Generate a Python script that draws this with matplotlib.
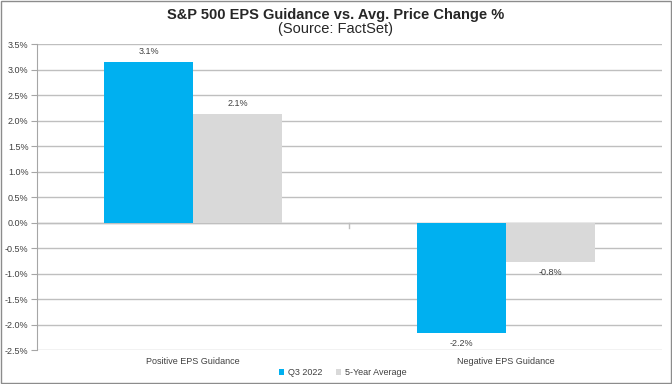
import numpy as np
import matplotlib.pyplot as plt
from matplotlib.ticker import FuncFormatter
from matplotlib.patches import Rectangle

plt.rcParams['font.family'] = ['Liberation Sans', 'DejaVu Sans']

# data
categories = ['Positive EPS Guidance', 'Negative EPS Guidance']
q3_2022 = [3.15, -2.17]
five_year_avg = [2.13, -0.78]
q3_labels = ['3.1%', '-2.2%']
avg_labels = ['2.1%', '-0.8%']

fig = plt.figure(figsize=(6.72, 3.84), dpi=100)
ax = fig.add_axes([0.055, 0.0885, 0.93, 0.7965])

x = np.arange(len(categories))
w = 0.285
b1 = ax.bar(x - w/2, q3_2022, w, color='#00B0F0', label='Q3 2022', zorder=3)
b2 = ax.bar(x + w/2, five_year_avg, w, color='#D9D9D9', label='5-Year Average', zorder=3)

# value labels
for bars, labs in [(b1, q3_labels), (b2, avg_labels)]:
    for bar, lab in zip(bars, labs):
        h = bar.get_height()
        off = 4 if h >= 0 else -4
        ax.annotate(lab, (bar.get_x() + bar.get_width()/2, h),
                    xytext=(0, off), textcoords='offset points',
                    ha='center', va='bottom' if h >= 0 else 'top',
                    fontsize=6.5, color='#404040')

ax.set_xlim(-0.5, 1.5)
ax.set_ylim(-2.5, 3.5)
ax.set_yticks(np.arange(-2.5, 3.51, 0.5))
ax.yaxis.set_major_formatter(FuncFormatter(lambda v, p: '%.1f%%' % v))
ax.set_xticks(x)
ax.set_xticklabels(categories)
ax.tick_params(axis='x', length=0, labelsize=6.5, colors='#404040', pad=5)
ax.tick_params(axis='y', length=4, width=0.8, labelsize=6.5, colors='#404040', pad=2)
ax.tick_params(axis='y', color='#A6A6A6')
ax.grid(axis='y', color='#BFBFBF', linewidth=1, zorder=0)
for s in ['top', 'right', 'bottom']:
    ax.spines[s].set_visible(False)
ax.spines['left'].set_color('#A6A6A6')
ax.axhline(0, color='#BFBFBF', linewidth=1, zorder=2)
ax.plot([0.5, 0.5], [0, -0.1], color='#BFBFBF', linewidth=1, zorder=2)

fig.text(0.5, 0.962, 'S&P 500 EPS Guidance vs. Avg. Price Change %',
         ha='center', va='center', fontsize=10.5, fontweight='bold', color='#262626')
fig.text(0.5, 0.925, '(Source: FactSet)', ha='center', va='center',
         fontsize=10.5, color='#262626')

fig.legend(loc='center', bbox_to_anchor=(0.51, 0.03), ncol=2, frameon=False,
           fontsize=6.5, handlelength=0.6, handleheight=0.6, handletextpad=0.4,
           columnspacing=1.5, labelcolor='#404040')

fig.patches.append(Rectangle((0.002, 0.003), 0.996, 0.994, transform=fig.transFigure,
                             fill=False, edgecolor='#8C8C8C', linewidth=1))

fig.savefig('out.png', dpi=100)
